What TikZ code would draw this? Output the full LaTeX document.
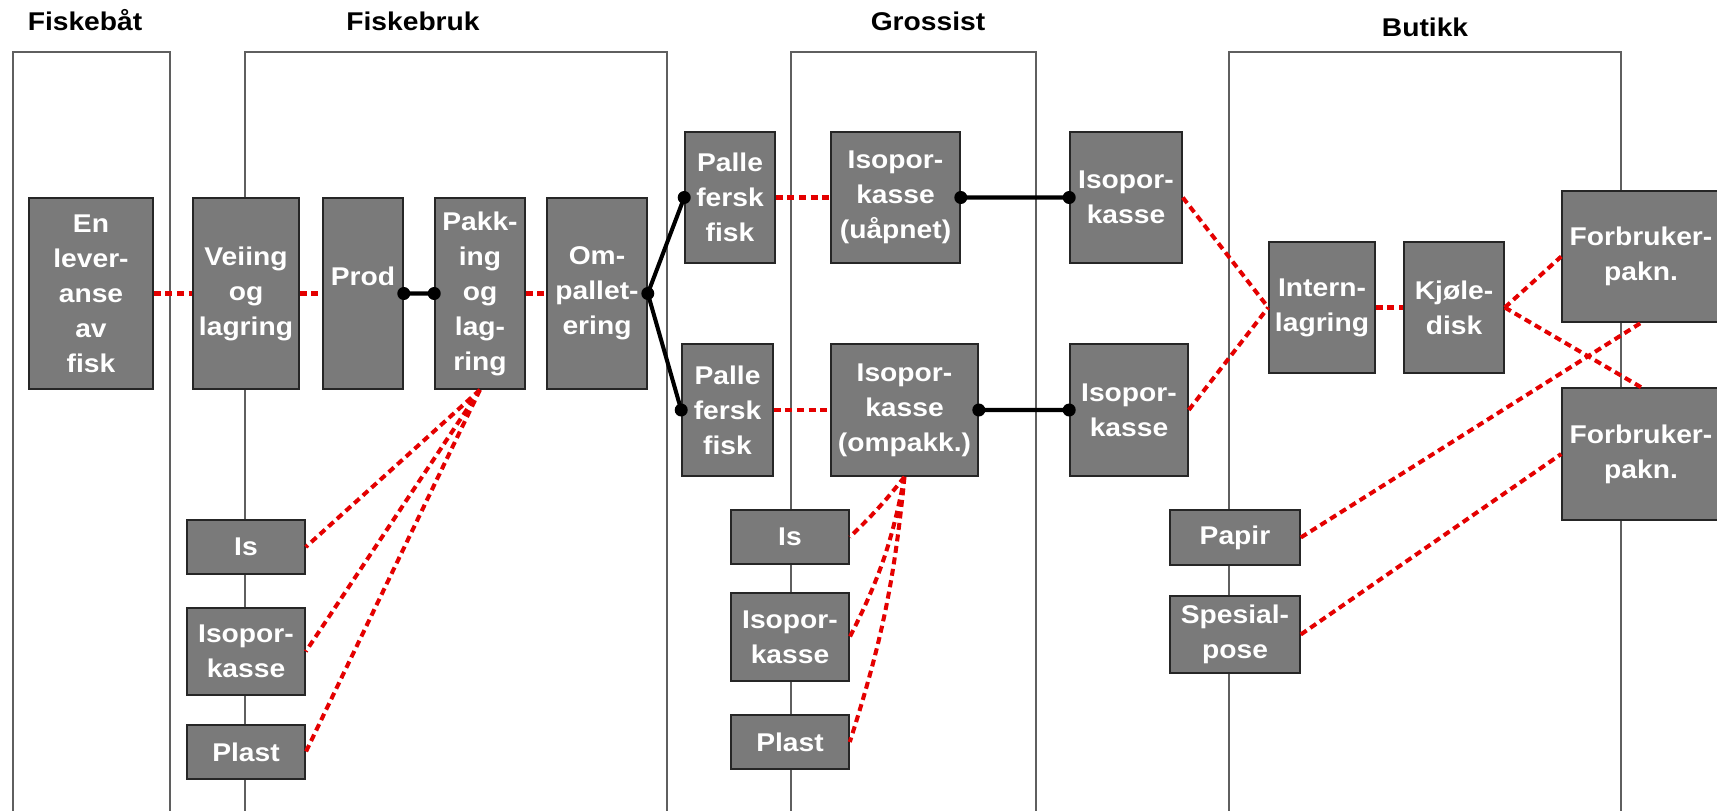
\documentclass[tikz,border=0pt]{standalone}
\usepackage{fontspec}
\setmainfont{Liberation Sans}[FakeStretch=1.1]
\usetikzlibrary{calc}
\definecolor{boksgraa}{RGB}{122,122,122}
\definecolor{rammegraa}{RGB}{95,95,95}
\definecolor{stiplerod}{RGB}{228,0,0}

\begin{document}
\begin{tikzpicture}[x=0.02cm,y=-0.02cm,
    boks/.style={draw=black!85,line width=0.9pt,fill=boksgraa,text=white,
      font=\fontsize{14.6}{19.9}\selectfont\bfseries,align=center,inner sep=0pt},
    storl/.style 2 args={minimum width=#1*0.02cm,minimum height=#2*0.02cm},
    tittel/.style={font=\fontsize{14.6}{19.9}\selectfont\bfseries,anchor=base},
    ramme/.style={draw=rammegraa,line width=0.8pt},
    rod/.style={draw=stiplerod,line width=2.3pt,dash pattern=on 4pt off 2.6pt},
    svart/.style={line width=2.3pt,black}]
      \useasboundingbox (0,0) rectangle (1717,811);
      \clip (0,0) rectangle (1717,811);
      % kolonner
      \foreach \a/\b in {13/170,245/667,791/1036,1229/1621}
        \draw[ramme] (\a,811)--(\a,52)--(\b,52)--(\b,811);
      \node[tittel] (tbaat) at (85,30.7) {Fiskebåt};
      \node[tittel] (tbruk) at (413,30.7) {Fiskebruk};
      \node[tittel] (tgross) at (928,30.7) {Grossist};
      \node[tittel] (tbutikk) at (1425,36.7) {Butikk};
      % hovedkjede
      \node[boks,storl={124}{191}] (lev) at (91,293.5) {En\\lever-\\anse\\av\\fisk};
      \node[boks,storl={106}{191}] (veie) at (246,293.5) {Veiing\\og\\lagring};
      \node[boks,storl={80}{191}] (prod) at (363,293.5) {Prod\\~};
      \node[boks,storl={90}{191}] (pakk) at (480,293.5) {Pakk-\\ing\\og\\lag-\\ring};
      \node[boks,storl={100}{191}] (omp) at (597,293.5) {Om-\\pallet-\\ering};
      \node[boks,storl={90}{131}] (palleA) at (730,197.5) {Palle\\fersk\\fisk};
      \node[boks,storl={129}{131}] (isoA) at (895.5,197.5) {Isopor-\\kasse\\(uåpnet)};
      \node[boks,storl={112}{131}] (kasseA) at (1126,197.5) {Isopor-\\kasse};
      \node[boks,storl={91}{132}] (palleB) at (727.5,410) {Palle\\fersk\\fisk};
      \node[boks,storl={147}{132}] (isoB) at (904.5,410) {Isopor-\\kasse\\(ompakk.)};
      \node[boks,storl={118}{132}] (kasseB) at (1129,410) {Isopor-\\kasse};
      \node[boks,storl={106}{131}] (intern) at (1322,307.5) {Intern-\\lagring};
      \node[boks,storl={100}{131}] (kjole) at (1454,307.5) {Kjøle-\\disk};
      \node[boks,storl={158}{131}] (forbrA) at (1641,256.5) {Forbruker-\\pakn.};
      \node[boks,storl={158}{132}] (forbrB) at (1641,454) {Forbruker-\\pakn.};
      % emballasje
      \node[boks,storl={118}{54}] (isF) at (246,547) {Is};
      \node[boks,storl={118}{87}] (isoporF) at (246,651.5) {Isopor-\\kasse};
      \node[boks,storl={118}{54}] (plastF) at (246,752) {Plast};
      \node[boks,storl={118}{54}] (isG) at (790,537) {Is};
      \node[boks,storl={118}{88}] (isoporG) at (790,637) {Isopor-\\kasse};
      \node[boks,storl={118}{54}] (plastG) at (790,742) {Plast};
      \node[boks,storl={130}{55}] (papir) at (1235,537.5) {Papir};
      \node[boks,storl={130}{77}] (pose) at (1235,634.5) {Spesial-\\pose};
      % stiplet
      \draw[rod] (lev)--(veie) (veie)--(prod) (pakk)--(omp) (palleA)--(isoA)
        (palleB)--(isoB) (intern)--(kjole);
      \draw[rod] (kasseA.east)--(intern.west) (kasseB.east)--(intern.west);
      \draw[rod] (kjole.east)--(forbrA.west) (kjole.east)--(forbrB.north)
        (papir.east)--(forbrA.south) (pose.east)--(forbrB.west);
      \draw[rod] (pakk.south)--(isF.east) (pakk.south)--(isoporF.east)
        (pakk.south)--(plastF.east);
      \draw[rod] (isoB.south) to[bend left=4] (isG.east)
        (isoB.south) to[bend left=8] (isoporG.east)
        (isoB.south) to[bend left=6] (plastG.east);
      % heltrukket
      \draw[svart] (prod.east)--(pakk.west) (omp.east)--(palleA.west)
        (omp.east)--(palleB.west) (isoA.east)--(kasseA.west) (isoB.east)--(kasseB.west);
      \foreach \p in {prod.east,pakk.west,omp.east,palleA.west,palleB.west,
        isoA.east,kasseA.west,isoB.east,kasseB.west}
        \fill (\p) circle[radius=0.13cm];
\end{tikzpicture}
\end{document}
